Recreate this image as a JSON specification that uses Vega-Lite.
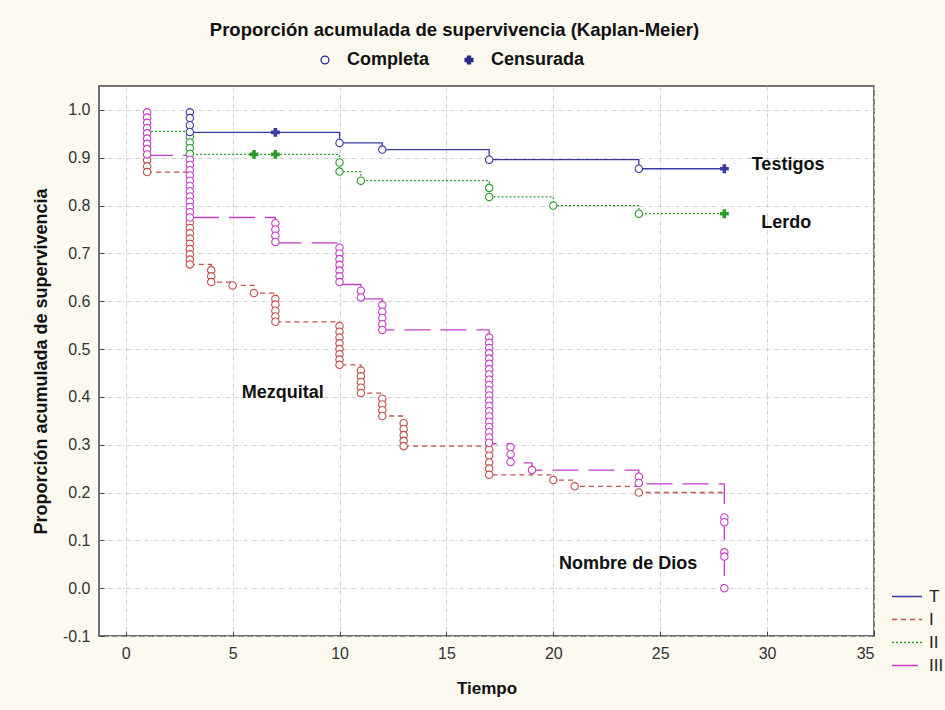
{
  "$schema": "https://vega.github.io/schema/vega-lite/v6.json",
  "width": 775,
  "height": 550,
  "autosize": {"type": "none"},
  "padding": {"left": 99, "top": 86, "right": 71, "bottom": 74},
  "background": "#fcf9ef",
  "view": {"fill": "white", "stroke": "#444", "strokeWidth": 1.5},
  "config": {"font": "Liberation Sans"},
  "title": {
    "text": "Proporción acumulada de supervivencia (Kaplan-Meier)",
    "fontSize": 18.5, "fontWeight": "bold", "font": "Liberation Sans", "color": "#111",
    "anchor": "middle", "dx": -32, "offset": 12
  },
  "datasets": {
    "lines": [
      {"g": "T", "t": 3, "s": 0.953}, {"g": "T", "t": 10, "s": 0.931}, {"g": "T", "t": 12, "s": 0.917},
      {"g": "T", "t": 17, "s": 0.896}, {"g": "T", "t": 24, "s": 0.877}, {"g": "T", "t": 28, "s": 0.877},
      {"g": "I", "t": 1, "s": 0.87}, {"g": "I", "t": 3, "s": 0.677}, {"g": "I", "t": 4, "s": 0.64},
      {"g": "I", "t": 5, "s": 0.633}, {"g": "I", "t": 6, "s": 0.617}, {"g": "I", "t": 7, "s": 0.557},
      {"g": "I", "t": 10, "s": 0.467}, {"g": "I", "t": 11, "s": 0.408}, {"g": "I", "t": 12, "s": 0.36},
      {"g": "I", "t": 13, "s": 0.297}, {"g": "I", "t": 17, "s": 0.237}, {"g": "I", "t": 20, "s": 0.226},
      {"g": "I", "t": 21, "s": 0.213}, {"g": "I", "t": 24, "s": 0.2}, {"g": "I", "t": 28, "s": 0.2},
      {"g": "II", "t": 1, "s": 0.955}, {"g": "II", "t": 3, "s": 0.907}, {"g": "II", "t": 10, "s": 0.871},
      {"g": "II", "t": 11, "s": 0.852}, {"g": "II", "t": 17, "s": 0.818}, {"g": "II", "t": 20, "s": 0.8},
      {"g": "II", "t": 24, "s": 0.783}, {"g": "II", "t": 28, "s": 0.783},
      {"g": "III", "t": 1, "s": 0.905}, {"g": "III", "t": 3, "s": 0.775}, {"g": "III", "t": 7, "s": 0.722},
      {"g": "III", "t": 10, "s": 0.635}, {"g": "III", "t": 11, "s": 0.605}, {"g": "III", "t": 12, "s": 0.54},
      {"g": "III", "t": 17, "s": 0.302}, {"g": "III", "t": 18, "s": 0.262}, {"g": "III", "t": 19, "s": 0.247},
      {"g": "III", "t": 24, "s": 0.218}, {"g": "III", "t": 28, "s": 0.0}
    ],
    "pts": [
      {"g": "I", "t": 1, "s": 0.895, "type": "Completa"}, {"g": "I", "t": 1, "s": 0.882, "type": "Completa"}, {"g": "I", "t": 1, "s": 0.87, "type": "Completa"},
      {"g": "I", "t": 3, "s": 0.764, "type": "Completa"}, {"g": "I", "t": 3, "s": 0.753, "type": "Completa"}, {"g": "I", "t": 3, "s": 0.742, "type": "Completa"},
      {"g": "I", "t": 3, "s": 0.731, "type": "Completa"}, {"g": "I", "t": 3, "s": 0.72, "type": "Completa"}, {"g": "I", "t": 3, "s": 0.709, "type": "Completa"},
      {"g": "I", "t": 3, "s": 0.698, "type": "Completa"}, {"g": "I", "t": 3, "s": 0.687, "type": "Completa"}, {"g": "I", "t": 3, "s": 0.677, "type": "Completa"},
      {"g": "I", "t": 4, "s": 0.665, "type": "Completa"}, {"g": "I", "t": 4, "s": 0.652, "type": "Completa"}, {"g": "I", "t": 4, "s": 0.64, "type": "Completa"},
      {"g": "I", "t": 5, "s": 0.633, "type": "Completa"}, {"g": "I", "t": 6, "s": 0.617, "type": "Completa"},
      {"g": "I", "t": 7, "s": 0.605, "type": "Completa"}, {"g": "I", "t": 7, "s": 0.593, "type": "Completa"}, {"g": "I", "t": 7, "s": 0.58, "type": "Completa"},
      {"g": "I", "t": 7, "s": 0.568, "type": "Completa"}, {"g": "I", "t": 7, "s": 0.557, "type": "Completa"},
      {"g": "I", "t": 10, "s": 0.548, "type": "Completa"}, {"g": "I", "t": 10, "s": 0.536, "type": "Completa"}, {"g": "I", "t": 10, "s": 0.524, "type": "Completa"},
      {"g": "I", "t": 10, "s": 0.512, "type": "Completa"}, {"g": "I", "t": 10, "s": 0.5, "type": "Completa"}, {"g": "I", "t": 10, "s": 0.489, "type": "Completa"},
      {"g": "I", "t": 10, "s": 0.478, "type": "Completa"}, {"g": "I", "t": 10, "s": 0.467, "type": "Completa"},
      {"g": "I", "t": 11, "s": 0.455, "type": "Completa"}, {"g": "I", "t": 11, "s": 0.443, "type": "Completa"}, {"g": "I", "t": 11, "s": 0.431, "type": "Completa"},
      {"g": "I", "t": 11, "s": 0.419, "type": "Completa"}, {"g": "I", "t": 11, "s": 0.408, "type": "Completa"},
      {"g": "I", "t": 12, "s": 0.396, "type": "Completa"}, {"g": "I", "t": 12, "s": 0.384, "type": "Completa"}, {"g": "I", "t": 12, "s": 0.372, "type": "Completa"},
      {"g": "I", "t": 12, "s": 0.36, "type": "Completa"},
      {"g": "I", "t": 13, "s": 0.345, "type": "Completa"}, {"g": "I", "t": 13, "s": 0.333, "type": "Completa"}, {"g": "I", "t": 13, "s": 0.32, "type": "Completa"},
      {"g": "I", "t": 13, "s": 0.308, "type": "Completa"}, {"g": "I", "t": 13, "s": 0.297, "type": "Completa"},
      {"g": "I", "t": 17, "s": 0.29, "type": "Completa"}, {"g": "I", "t": 17, "s": 0.277, "type": "Completa"}, {"g": "I", "t": 17, "s": 0.263, "type": "Completa"},
      {"g": "I", "t": 17, "s": 0.25, "type": "Completa"}, {"g": "I", "t": 17, "s": 0.237, "type": "Completa"},
      {"g": "I", "t": 20, "s": 0.226, "type": "Completa"}, {"g": "I", "t": 21, "s": 0.213, "type": "Completa"}, {"g": "I", "t": 24, "s": 0.2, "type": "Completa"},
      {"g": "II", "t": 3, "s": 0.944, "type": "Completa"}, {"g": "II", "t": 3, "s": 0.932, "type": "Completa"}, {"g": "II", "t": 3, "s": 0.92, "type": "Completa"},
      {"g": "II", "t": 3, "s": 0.908, "type": "Completa"},
      {"g": "II", "t": 10, "s": 0.89, "type": "Completa"}, {"g": "II", "t": 10, "s": 0.871, "type": "Completa"},
      {"g": "II", "t": 11, "s": 0.852, "type": "Completa"},
      {"g": "II", "t": 17, "s": 0.837, "type": "Completa"}, {"g": "II", "t": 17, "s": 0.818, "type": "Completa"},
      {"g": "II", "t": 20, "s": 0.8, "type": "Completa"}, {"g": "II", "t": 24, "s": 0.783, "type": "Completa"},
      {"g": "II", "t": 6, "s": 0.907, "type": "Censurada"}, {"g": "II", "t": 7, "s": 0.907, "type": "Censurada"}, {"g": "II", "t": 28, "s": 0.783, "type": "Censurada"},
      {"g": "T", "t": 3, "s": 0.995, "type": "Completa"}, {"g": "T", "t": 3, "s": 0.983, "type": "Completa"}, {"g": "T", "t": 3, "s": 0.968, "type": "Completa"},
      {"g": "T", "t": 3, "s": 0.954, "type": "Completa"},
      {"g": "T", "t": 10, "s": 0.931, "type": "Completa"}, {"g": "T", "t": 12, "s": 0.917, "type": "Completa"},
      {"g": "T", "t": 17, "s": 0.896, "type": "Completa"}, {"g": "T", "t": 24, "s": 0.877, "type": "Completa"},
      {"g": "T", "t": 7, "s": 0.953, "type": "Censurada"}, {"g": "T", "t": 28, "s": 0.877, "type": "Censurada"},
      {"g": "III", "t": 1, "s": 0.995, "type": "Completa"}, {"g": "III", "t": 1, "s": 0.984, "type": "Completa"}, {"g": "III", "t": 1, "s": 0.973, "type": "Completa"},
      {"g": "III", "t": 1, "s": 0.962, "type": "Completa"}, {"g": "III", "t": 1, "s": 0.951, "type": "Completa"}, {"g": "III", "t": 1, "s": 0.94, "type": "Completa"},
      {"g": "III", "t": 1, "s": 0.929, "type": "Completa"}, {"g": "III", "t": 1, "s": 0.918, "type": "Completa"}, {"g": "III", "t": 1, "s": 0.907, "type": "Completa"},
      {"g": "III", "t": 3, "s": 0.896, "type": "Completa"}, {"g": "III", "t": 3, "s": 0.885, "type": "Completa"}, {"g": "III", "t": 3, "s": 0.874, "type": "Completa"},
      {"g": "III", "t": 3, "s": 0.863, "type": "Completa"}, {"g": "III", "t": 3, "s": 0.852, "type": "Completa"}, {"g": "III", "t": 3, "s": 0.841, "type": "Completa"},
      {"g": "III", "t": 3, "s": 0.83, "type": "Completa"}, {"g": "III", "t": 3, "s": 0.819, "type": "Completa"}, {"g": "III", "t": 3, "s": 0.808, "type": "Completa"},
      {"g": "III", "t": 3, "s": 0.797, "type": "Completa"}, {"g": "III", "t": 3, "s": 0.786, "type": "Completa"}, {"g": "III", "t": 3, "s": 0.775, "type": "Completa"},
      {"g": "III", "t": 7, "s": 0.763, "type": "Completa"}, {"g": "III", "t": 7, "s": 0.75, "type": "Completa"}, {"g": "III", "t": 7, "s": 0.737, "type": "Completa"},
      {"g": "III", "t": 7, "s": 0.724, "type": "Completa"},
      {"g": "III", "t": 10, "s": 0.712, "type": "Completa"}, {"g": "III", "t": 10, "s": 0.7, "type": "Completa"}, {"g": "III", "t": 10, "s": 0.688, "type": "Completa"},
      {"g": "III", "t": 10, "s": 0.676, "type": "Completa"}, {"g": "III", "t": 10, "s": 0.664, "type": "Completa"}, {"g": "III", "t": 10, "s": 0.652, "type": "Completa"},
      {"g": "III", "t": 10, "s": 0.64, "type": "Completa"},
      {"g": "III", "t": 11, "s": 0.622, "type": "Completa"}, {"g": "III", "t": 11, "s": 0.608, "type": "Completa"},
      {"g": "III", "t": 12, "s": 0.592, "type": "Completa"}, {"g": "III", "t": 12, "s": 0.578, "type": "Completa"}, {"g": "III", "t": 12, "s": 0.565, "type": "Completa"},
      {"g": "III", "t": 12, "s": 0.552, "type": "Completa"}, {"g": "III", "t": 12, "s": 0.54, "type": "Completa"},
      {"g": "III", "t": 17, "s": 0.524, "type": "Completa"}, {"g": "III", "t": 17, "s": 0.513, "type": "Completa"}, {"g": "III", "t": 17, "s": 0.502, "type": "Completa"},
      {"g": "III", "t": 17, "s": 0.491, "type": "Completa"}, {"g": "III", "t": 17, "s": 0.48, "type": "Completa"}, {"g": "III", "t": 17, "s": 0.469, "type": "Completa"},
      {"g": "III", "t": 17, "s": 0.458, "type": "Completa"}, {"g": "III", "t": 17, "s": 0.447, "type": "Completa"}, {"g": "III", "t": 17, "s": 0.436, "type": "Completa"},
      {"g": "III", "t": 17, "s": 0.425, "type": "Completa"}, {"g": "III", "t": 17, "s": 0.414, "type": "Completa"}, {"g": "III", "t": 17, "s": 0.403, "type": "Completa"},
      {"g": "III", "t": 17, "s": 0.392, "type": "Completa"}, {"g": "III", "t": 17, "s": 0.381, "type": "Completa"}, {"g": "III", "t": 17, "s": 0.37, "type": "Completa"},
      {"g": "III", "t": 17, "s": 0.359, "type": "Completa"}, {"g": "III", "t": 17, "s": 0.348, "type": "Completa"}, {"g": "III", "t": 17, "s": 0.337, "type": "Completa"},
      {"g": "III", "t": 17, "s": 0.326, "type": "Completa"}, {"g": "III", "t": 17, "s": 0.315, "type": "Completa"}, {"g": "III", "t": 17, "s": 0.304, "type": "Completa"},
      {"g": "III", "t": 18, "s": 0.295, "type": "Completa"}, {"g": "III", "t": 18, "s": 0.28, "type": "Completa"}, {"g": "III", "t": 18, "s": 0.264, "type": "Completa"},
      {"g": "III", "t": 19, "s": 0.247, "type": "Completa"},
      {"g": "III", "t": 24, "s": 0.233, "type": "Completa"}, {"g": "III", "t": 24, "s": 0.22, "type": "Completa"},
      {"g": "III", "t": 28, "s": 0.148, "type": "Completa"}, {"g": "III", "t": 28, "s": 0.138, "type": "Completa"},
      {"g": "III", "t": 28, "s": 0.075, "type": "Completa"}, {"g": "III", "t": 28, "s": 0.066, "type": "Completa"},
      {"g": "III", "t": 28, "s": 0.0, "type": "Completa"}
    ],
    "labels": [
      {"t": 30.98, "s": 0.885, "label": "Testigos"},
      {"t": 30.9, "s": 0.764, "label": "Lerdo"},
      {"t": 7.34, "s": 0.408, "label": "Mezquital"},
      {"t": 23.5, "s": 0.051, "label": "Nombre de Dios"}
    ]
  },
  "encoding": {
    "x": {
      "field": "t", "type": "quantitative",
      "scale": {"domain": [-1.25, 35], "nice": false, "zero": false},
      "axis": {
        "title": "Tiempo", "values": [0, 5, 10, 15, 20, 25, 30, 35],
        "titleFontSize": 17, "titleFontWeight": "bold", "titleColor": "#111", "titlePadding": 19,
        "labelFontSize": 16, "labelColor": "#333", "labelPadding": 14,
        "domain": false, "ticks": true, "tickSize": -5, "tickColor": "#444", "tickWidth": 1,
        "grid": true, "gridColor": "#cdcdcd", "gridDash": [4, 2, 1, 2], "gridWidth": 1
      }
    },
    "y": {
      "field": "s", "type": "quantitative",
      "scale": {"domain": [-0.1, 1.05], "nice": false, "zero": false},
      "axis": {
        "title": "Proporción acumulada de supervivencia",
        "values": [-0.1, 0, 0.1, 0.2, 0.3, 0.4, 0.5, 0.6, 0.7, 0.8, 0.9, 1.0], "format": ".1f",
        "labelExpr": "replace(datum.label, '−', '-')",
        "titleFontSize": 18, "titleFontWeight": "bold", "titleColor": "#111", "titlePadding": 12,
        "labelFontSize": 16, "labelColor": "#333", "labelPadding": 14,
        "domain": false, "ticks": true, "tickSize": -5, "tickColor": "#444", "tickWidth": 1,
        "grid": true, "gridColor": "#cdcdcd", "gridDash": [4, 2, 1, 2], "gridWidth": 1
      }
    }
  },
  "layer": [
    {
      "data": {"name": "lines"},
      "mark": {"type": "line", "interpolate": "step-after", "strokeWidth": 1.3},
      "encoding": {
        "color": {
          "field": "g", "type": "nominal",
          "scale": {"domain": ["T", "I", "II", "III"], "range": ["#3a3aa0", "#c0504d", "#2e9a2e", "#c63cc6"]},
          "legend": {
            "title": null, "orient": "none", "legendX": 792, "legendY": 500,
            "symbolType": "stroke", "symbolSize": 900, "symbolStrokeWidth": 1.6,
            "clipHeight": 21, "labelFontSize": 17, "labelColor": "#222", "labelOffset": 6
          }
        },
        "strokeDash": {
          "field": "g", "type": "nominal",
          "scale": {"domain": ["T", "I", "II", "III"], "range": [[1, 0], [5, 4], [2, 2], [26, 10]]},
          "legend": {
            "title": null, "orient": "none", "legendX": 792, "legendY": 500,
            "symbolType": "stroke", "symbolSize": 900, "symbolStrokeWidth": 1.6,
            "clipHeight": 21, "labelFontSize": 17, "labelColor": "#222", "labelOffset": 6
          }
        }
      }
    },
    {
      "data": {"name": "pts"},
      "transform": [{"filter": "datum.type === 'Completa'"}],
      "mark": {"type": "point", "filled": false, "fill": "white", "fillOpacity": 1, "size": 55, "strokeWidth": 1.1, "opacity": 1},
      "encoding": {
        "color": {"field": "g", "type": "nominal", "legend": null},
        "shape": {
          "field": "type", "type": "nominal",
          "scale": {"domain": ["Completa", "Censurada"], "range": ["circle", "cross"]},
          "legend": {
            "title": null, "orient": "none", "direction": "horizontal", "legendX": 217, "legendY": -35,
            "labelFontSize": 18, "labelFontWeight": "bold", "labelColor": "#111", "labelOffset": 13,
            "columnPadding": 30, "symbolSize": 60,
            "symbolStrokeColor": "#26268f", "symbolStrokeWidth": 1.3, "symbolFillColor": "white", "symbolOpacity": 1,
            "encode": {"symbols": {"update": {
              "stroke": {"value": "#26268f"},
              "strokeWidth": {"value": 1.3},
              "opacity": {"value": 1},
              "strokeOpacity": {"value": 1},
              "fillOpacity": {"value": 1},
              "fill": [{"test": "datum.value === 'Censurada'", "value": "#26268f"}, {"value": "white"}]
            }}}
          }
        }
      }
    },
    {
      "data": {"name": "pts"},
      "transform": [{"filter": "datum.type === 'Censurada'"}],
      "mark": {"type": "point", "filled": true, "size": 80, "opacity": 1},
      "encoding": {
        "color": {"field": "g", "type": "nominal", "legend": null},
        "shape": {
          "field": "type", "type": "nominal",
          "legend": {
            "title": null, "orient": "none", "direction": "horizontal", "legendX": 217, "legendY": -35,
            "labelFontSize": 18, "labelFontWeight": "bold", "labelColor": "#111", "labelOffset": 13,
            "columnPadding": 30, "symbolSize": 60,
            "symbolStrokeColor": "#26268f", "symbolStrokeWidth": 1.3, "symbolFillColor": "white", "symbolOpacity": 1,
            "encode": {"symbols": {"update": {
              "stroke": {"value": "#26268f"},
              "strokeWidth": {"value": 1.3},
              "opacity": {"value": 1},
              "strokeOpacity": {"value": 1},
              "fillOpacity": {"value": 1},
              "fill": [{"test": "datum.value === 'Censurada'", "value": "#26268f"}, {"value": "white"}]
            }}}
          }
        }
      }
    },
    {
      "data": {"name": "labels"},
      "mark": {"type": "text", "fontSize": 18, "fontWeight": "bold", "font": "Liberation Sans", "color": "#111", "align": "center", "baseline": "middle"},
      "encoding": {"text": {"field": "label"}}
    }
  ]
}
